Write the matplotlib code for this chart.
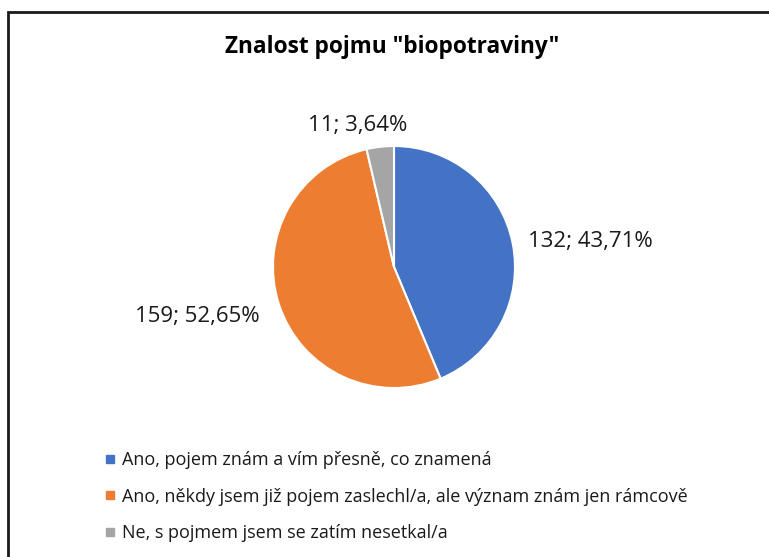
import matplotlib.pyplot as plt
import matplotlib.patches as mpatches
from matplotlib.lines import Line2D
import numpy as np

# data
categories = ['Ano, pojem znám a vím přesně, co znamená',
              'Ano, někdy jsem již pojem zaslechl/a, ale význam znám jen rámcově',
              'Ne, s pojmem jsem se zatím nesetkal/a']
counts = [132, 159, 11]
percents = ['43,71%', '52,65%', '3,64%']
colors = ['#4472C4', '#ED7D31', '#A5A5A5']

# label placement: radius (in pie radii) and angular nudge from wedge middle (deg)
label_dist = [1.64, 1.67, 1.23]
label_nudge = [-3.2, -4.3, 7.7]

plt.rcParams['font.family'] = ['Open Sans', 'DejaVu Sans']

W, H = 769, 557
fig = plt.figure(figsize=(W / 100, H / 100), dpi=100)
fig.patch.set_facecolor('white')

# chart frame (cut off at right/bottom)
frame = mpatches.Rectangle((8 / W, -0.05), 1.1, (H - 12) / H + 0.05,
                           transform=fig.transFigure, fill=False,
                           edgecolor='#1a1a1a', linewidth=2, clip_on=False)
fig.patches.append(frame)

fig.text(392 / W, 1 - 47 / H, 'Znalost pojmu "biopotraviny"', ha='center', va='center',
         fontsize=16.3, fontweight='bold', color='black')

# pie
cx, cy, r = 394, H - 267, 121
ax = fig.add_axes([(cx - r) / W, (cy - r) / H, 2 * r / W, 2 * r / H])
wedges, _ = ax.pie(counts, colors=colors, startangle=90, counterclock=False,
                   wedgeprops=dict(edgecolor='white', linewidth=1.5))
ax.set_xlim(-1, 1)
ax.set_ylim(-1, 1)
ax.axis('off')

for w, n, p, d, nd in zip(wedges, counts, percents, label_dist, label_nudge):
    ang = np.deg2rad((w.theta1 + w.theta2) / 2 + nd)
    ax.text(d * np.cos(ang), d * np.sin(ang), f'{n}; {p}', ha='center', va='center_baseline',
            fontsize=16, color='#1a1a1a', clip_on=False)

handles = [Line2D([], [], marker='s', linestyle='none', markersize=6,
                  markerfacecolor=c, markeredgecolor=c) for c in colors]
fig.legend(handles, categories, loc='upper left', bbox_to_anchor=(98 / W, 1 - 444 / H),
           frameon=False, fontsize=13, handlelength=0.55, handletextpad=0.4,
           labelspacing=1.02, borderaxespad=0, labelcolor='#1a1a1a')

fig.savefig('out.png', dpi=100)
